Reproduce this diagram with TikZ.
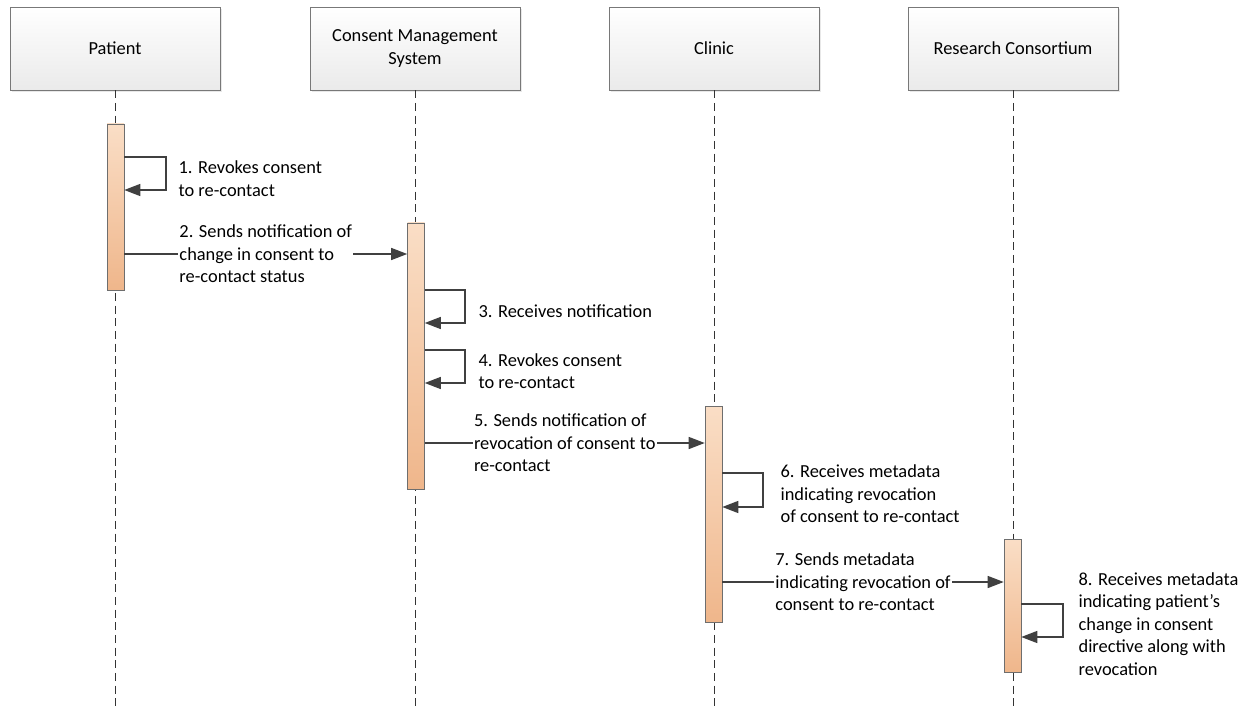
\documentclass[tikz,border=0pt]{standalone}
\usepackage{fontspec}
\setmainfont{Carlito}
\usetikzlibrary{arrows.meta,shadows}

\definecolor{headline}{RGB}{120,120,120}
\definecolor{headbot}{RGB}{234,234,234}
\definecolor{bartop}{RGB}{250,222,198}
\definecolor{barbot}{RGB}{239,182,139}
\definecolor{barline}{RGB}{110,110,110}
\definecolor{msgline}{RGB}{64,64,64}

\tikzset{
  head/.style={draw=headline, top color=white, bottom color=headbot,
    minimum width=157.5pt, minimum height=62.25pt, align=center,
    drop shadow={opacity=0.18, shadow xshift=1.5pt, shadow yshift=-1.5pt}},
  lifeline/.style={draw=black!80, line width=0.6pt, dash pattern=on 6pt off 3.5pt},
  bar/.style={draw=barline, top color=bartop, bottom color=barbot,
    minimum width=12.75pt, inner sep=0pt},
  msg/.style={draw=msgline, line width=1pt, -{Triangle[length=12pt,width=9pt]}},
  lbl/.style={align=left, inner sep=1pt}
}

\begin{document}
\begin{tikzpicture}[x=0.75pt,y=0.75pt,yscale=-1,xscale=1, font=\fontsize{13.8}{16.8}\selectfont]
\path[use as bounding box] (0,0) rectangle (1247,706);

% lifeline heads
\node[head] (patient) at (115,48.5) {Patient};
\node[head] (cms) at (415,48.5) {Consent Management\\System};
\node[head] (clinic) at (714,48.5) {Clinic};
\node[head] (consort) at (1013,48.5) {Research Consortium};

\draw[lifeline] (patient.south) -- (115,706);
\draw[lifeline] (cms.south) -- (415,706);
\draw[lifeline] (clinic.south) -- (714,706);
\draw[lifeline] (consort.south) -- (1013,706);

% activation bars
\node[bar, minimum height=124.5pt] (pbar) at (115.5,207) {};
\node[bar, minimum height=199.5pt] (cbar) at (416,356) {};
\node[bar, minimum height=162pt] (kbar) at (713.5,514) {};
\node[bar, minimum height=99.75pt] (rbar) at (1012.5,605.5) {};

% messages
\draw[msg] (pbar.east |- 0,157) -- (166,157) |- (pbar.east |- 0,190);
\node[lbl, anchor=west] (m1) at (177,178.5) {1. Revokes consent\\to re-contact};

\draw[msg] (pbar.east |- 0,254) -- node[lbl, fill=white] (m2) {2. Sends notification of\\change in consent to\\re-contact status} (cbar.west |- 0,254);

\draw[msg] (cbar.east |- 0,290) -- (465,290) |- (cbar.east |- 0,323);
\node[lbl, anchor=west] (m3) at (477,311) {3. Receives notification};

\draw[msg] (cbar.east |- 0,350) -- (465,350) |- (cbar.east |- 0,383);
\node[lbl, anchor=west] (m4) at (477,371) {4. Revokes consent\\to re-contact};

\draw[msg] (cbar.east |- 0,443) -- node[lbl, fill=white] (m5) {5. Sends notification of\\revocation of consent to\\re-contact} (kbar.west |- 0,443);

\draw[msg] (kbar.east |- 0,473) -- (763,473) |- (kbar.east |- 0,507);
\node[lbl, anchor=west] (m6) at (779,494) {6. Receives metadata\\indicating revocation\\of consent to re-contact};

\draw[msg] (kbar.east |- 0,582) -- node[lbl, fill=white] (m7) {7. Sends metadata\\indicating revocation of\\consent to re-contact} (rbar.west |- 0,582);

\draw[msg] (rbar.east |- 0,604) -- (1063,604) |- (rbar.east |- 0,637);
\node[lbl, anchor=west] (m8) at (1077,624) {8. Receives metadata\\indicating patient’s\\change in consent\\directive along with\\revocation};

\end{tikzpicture}
\end{document}
